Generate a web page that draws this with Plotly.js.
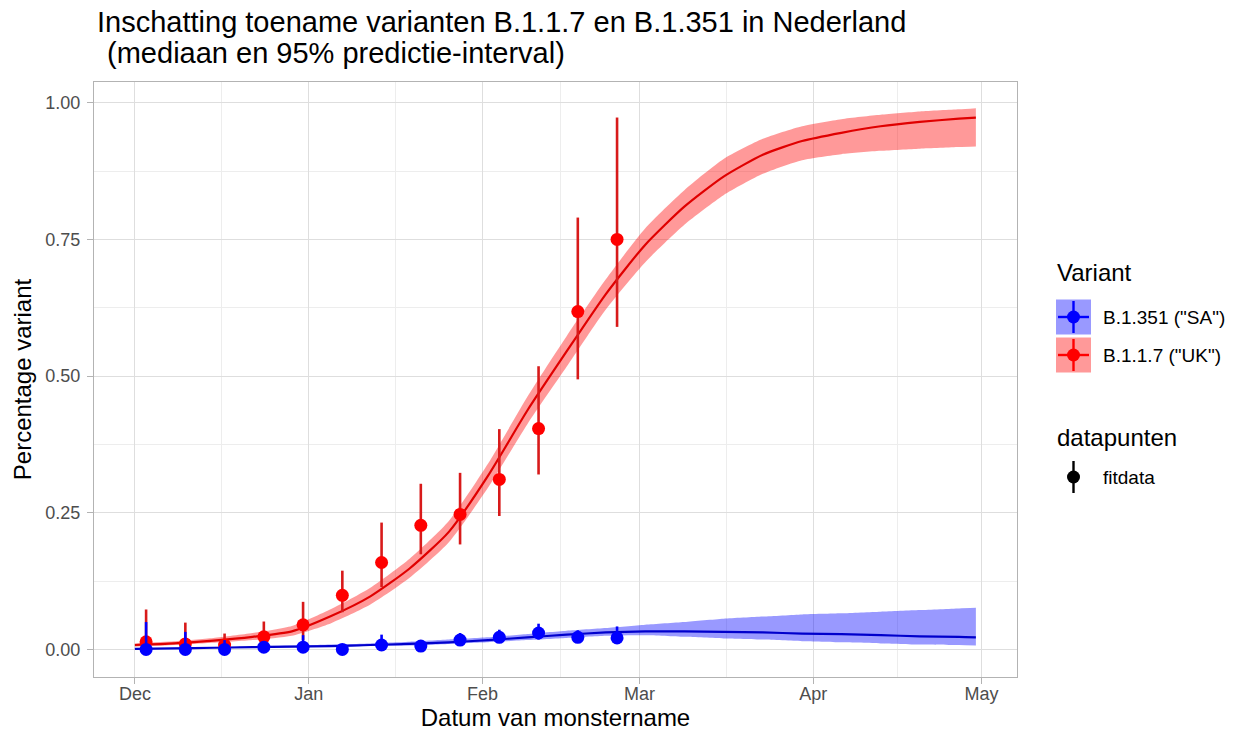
<!DOCTYPE html>
<html>
<head>
<meta charset="utf-8">
<script src="https://cdn.plot.ly/plotly-3.0.1.min.js"></script>
<style>
  html, body { margin: 0; padding: 0; background: #ffffff; }
  #chart { width: 1233px; height: 735px; }
</style>
</head>
<body>
<div id="chart"></div>
<script>
// Weekly sample dates (fitted data points)
const sampleDates = ['2020-12-03', '2020-12-10', '2020-12-17', '2020-12-24', '2020-12-31',
  '2021-01-07', '2021-01-14', '2021-01-21', '2021-01-28', '2021-02-04',
  '2021-02-11', '2021-02-18', '2021-02-25'];

// B.1.1.7 ("UK") observed share with 95% interval
const ukValue = [0.014, 0.010, 0.008, 0.023, 0.045, 0.099, 0.159, 0.227, 0.247, 0.311, 0.404, 0.618, 0.750];
const ukLower = [0.000, 0.000, 0.000, 0.008, 0.017, 0.068, 0.114, 0.174, 0.192, 0.244, 0.320, 0.494, 0.590];
const ukUpper = [0.073, 0.049, 0.029, 0.051, 0.087, 0.144, 0.232, 0.303, 0.323, 0.403, 0.518, 0.790, 0.973];

// B.1.351 ("SA") observed share with 95% interval
const saValue = [0.000, 0.000, 0.000, 0.004, 0.004, 0.000, 0.008, 0.006, 0.017, 0.022, 0.030, 0.022, 0.021];
const saLower = [0.000, 0.000, 0.000, 0.000, 0.000, 0.000, 0.002, 0.002, 0.010, 0.012, 0.018, 0.013, 0.011];
const saUpper = [0.050, 0.032, 0.017, 0.010, 0.026, 0.003, 0.027, 0.010, 0.030, 0.036, 0.047, 0.035, 0.042];

// Model prediction dates
const fitDates = ['2020-12-01', '2020-12-08', '2020-12-15', '2020-12-22', '2020-12-29',
  '2021-01-05', '2021-01-12', '2021-01-19', '2021-01-26', '2021-02-02',
  '2021-02-09', '2021-02-16', '2021-02-23', '2021-03-02', '2021-03-09',
  '2021-03-16', '2021-03-23', '2021-03-30', '2021-04-06', '2021-04-13',
  '2021-04-20', '2021-04-27', '2021-04-30'];

// B.1.1.7 prediction: median and 95% prediction interval
const ukMedian = [0.008, 0.011, 0.016, 0.023, 0.033, 0.061, 0.097, 0.148, 0.215, 0.318, 0.437, 0.545, 0.650,
  0.740, 0.810, 0.865, 0.905, 0.930, 0.945, 0.957, 0.965, 0.971, 0.973];
const ukPredLow = [0.005, 0.008, 0.012, 0.017, 0.025, 0.048, 0.082, 0.131, 0.196, 0.296, 0.412, 0.517, 0.622,
  0.708, 0.777, 0.831, 0.870, 0.895, 0.906, 0.912, 0.916, 0.919, 0.920];
const ukPredHigh = [0.011, 0.015, 0.021, 0.030, 0.043, 0.074, 0.113, 0.166, 0.235, 0.340, 0.462, 0.573, 0.677,
  0.770, 0.840, 0.897, 0.934, 0.957, 0.970, 0.978, 0.984, 0.988, 0.990];

// B.1.351 prediction: median and 95% prediction interval
const saMedian = [0.001, 0.002, 0.003, 0.004, 0.005, 0.006, 0.008, 0.010, 0.013, 0.017, 0.022, 0.027, 0.031,
  0.033, 0.033, 0.032, 0.031, 0.029, 0.028, 0.026, 0.024, 0.023, 0.022];
const saPredLow = [0.000, 0.001, 0.002, 0.003, 0.004, 0.005, 0.006, 0.007, 0.010, 0.013, 0.017, 0.021, 0.025,
  0.026, 0.023, 0.020, 0.018, 0.015, 0.013, 0.011, 0.009, 0.008, 0.007];
const saPredHigh = [0.002, 0.003, 0.004, 0.006, 0.007, 0.009, 0.011, 0.014, 0.018, 0.022, 0.028, 0.034, 0.039,
  0.045, 0.050, 0.056, 0.060, 0.064, 0.066, 0.069, 0.072, 0.075, 0.076];

// Axis ticks
const monthTicks = ['2020-12-01', '2021-01-01', '2021-02-01', '2021-03-01', '2021-04-01', '2021-05-01'];
const monthLabels = ['Dec', 'Jan', 'Feb', 'Mar', 'Apr', 'May'];
const monthMinor = ['2020-12-16 12:00', '2021-01-16 12:00', '2021-02-15', '2021-03-16 12:00', '2021-04-16'];
const yTicks = [0, 0.25, 0.5, 0.75, 1];
const yLabels = ['0.00', '0.25', '0.50', '0.75', '1.00'];
const yMinor = [0.125, 0.375, 0.625, 0.875];

const variantNames = ['B.1.351 ("SA")', 'B.1.1.7 ("UK")'];

const FONT = 'Liberation Sans, Arial, sans-serif';
const RED = '#ff0000', RED_FILL = 'rgba(255,0,0,0.4)', RED_BAR = '#d81a1a';
const BLUE = '#0000ff', BLUE_FILL = 'rgba(0,0,255,0.4)', BLUE_LINE = '#0000cc';

// A prediction band: invisible lower edge, then the upper edge filled down to it
function ribbon(x, lo, hi, fill) {
  const edge = { width: 0, shape: 'spline', smoothing: 0.6 };
  return [
    { x: x, y: lo, type: 'scatter', mode: 'lines', line: edge, hoverinfo: 'skip', showlegend: false },
    { x: x, y: hi, type: 'scatter', mode: 'lines', line: edge, fill: 'tonexty', fillcolor: fill,
      hoverinfo: 'skip', showlegend: false }
  ];
}
function medianLine(x, y, color) {
  return { x: x, y: y, type: 'scatter', mode: 'lines',
    line: { color: color, width: 2.2, shape: 'spline', smoothing: 0.6 }, showlegend: false };
}
function pointRange(x, v, lo, hi, color, barColor) {
  return {
    x: x, y: v, type: 'scatter', mode: 'markers',
    marker: { color: color, size: 13 },
    error_y: { type: 'data', symmetric: false,
      array: hi.map((h, i) => h - v[i]), arrayminus: v.map((c, i) => c - lo[i]),
      color: barColor, thickness: 2.6, width: 0 },
    showlegend: false
  };
}

const traces = [].concat(
  ribbon(fitDates, ukPredLow, ukPredHigh, RED_FILL),
  ribbon(fitDates, saPredLow, saPredHigh, BLUE_FILL),
  [
    medianLine(fitDates, ukMedian, '#e00000'),
    medianLine(fitDates, saMedian, BLUE_LINE),
    pointRange(sampleDates, ukValue, ukLower, ukUpper, RED, RED_BAR),
    pointRange(sampleDates, saValue, saLower, saUpper, BLUE, BLUE)
  ]
);

// Panel box in pixels, used to place the hand-built legend
const PL = 94, PR = 1017, PT = 82, PB = 677;
const px = v => (v - PL) / (PR - PL);
const py = v => (PB - v) / (PB - PT);

const shapes = [];
const annotations = [];

// Variant legend keys
function variantKey(cy, fill, color, name) {
  const x0 = 1056, x1 = 1091, cx = (x0 + x1) / 2;
  shapes.push({ type: 'rect', xref: 'paper', yref: 'paper', x0: px(x0), x1: px(x1),
    y0: py(cy + 17.5), y1: py(cy - 17.5), fillcolor: fill, line: { width: 0 }, layer: 'above' });
  shapes.push({ type: 'line', xref: 'paper', yref: 'paper', x0: px(x0 + 2), x1: px(x1 - 2),
    y0: py(cy), y1: py(cy), line: { color: color, width: 2.4 }, layer: 'above' });
  shapes.push({ type: 'line', xref: 'paper', yref: 'paper', x0: px(cx), x1: px(cx),
    y0: py(cy + 16), y1: py(cy - 16), line: { color: color, width: 2.4 }, layer: 'above' });
  shapes.push({ type: 'circle', xref: 'paper', yref: 'paper', x0: px(cx - 6.5), x1: px(cx + 6.5),
    y0: py(cy + 6.5), y1: py(cy - 6.5), fillcolor: color, line: { width: 0 }, layer: 'above' });
  annotations.push({ xref: 'paper', yref: 'paper', x: px(1101), y: py(cy), xanchor: 'left', yanchor: 'middle',
    text: name, showarrow: false, font: { family: FONT, size: 19, color: '#000000' } });
}

annotations.push({ xref: 'paper', yref: 'paper', x: px(1055), y: py(272), xanchor: 'left', yanchor: 'middle',
  text: 'Variant', showarrow: false, font: { family: FONT, size: 24, color: '#000000' } });
variantKey(317, BLUE_FILL, BLUE, variantNames[0]);
variantKey(355, RED_FILL, RED, variantNames[1]);

// Data-point legend
annotations.push({ xref: 'paper', yref: 'paper', x: px(1055), y: py(437), xanchor: 'left', yanchor: 'middle',
  text: 'datapunten', showarrow: false, font: { family: FONT, size: 24, color: '#000000' } });
shapes.push({ type: 'line', xref: 'paper', yref: 'paper', x0: px(1073.5), x1: px(1073.5),
  y0: py(493), y1: py(461), line: { color: '#000000', width: 2.4 } });
shapes.push({ type: 'circle', xref: 'paper', yref: 'paper', x0: px(1067), x1: px(1080),
  y0: py(483.5), y1: py(470.5), fillcolor: '#000000', line: { width: 0 } });
annotations.push({ xref: 'paper', yref: 'paper', x: px(1101), y: py(477), xanchor: 'left', yanchor: 'middle',
  text: 'fitdata', showarrow: false, font: { family: FONT, size: 19, color: '#000000' } });

// Second line of the title
annotations.push({ xref: 'paper', yref: 'paper', x: px(97), y: py(53), xanchor: 'left', yanchor: 'middle',
  text: ' (mediaan en 95% predictie-interval)', showarrow: false,
  font: { family: FONT, size: 29, color: '#000000' } });

const layout = {
  width: 1233, height: 735,
  margin: { l: PL, r: 1233 - PR, t: PT, b: 735 - PB, pad: 0 },
  paper_bgcolor: '#ffffff', plot_bgcolor: '#ffffff',
  font: { family: FONT, color: '#000000' },
  showlegend: false,
  title: { text: 'Inschatting toename varianten B.1.1.7 en B.1.351 in Nederland',
    x: 97 / 1233, xref: 'container', xanchor: 'left',
    y: 1 - 22 / 735, yref: 'container', yanchor: 'middle',
    font: { family: FONT, size: 29, color: '#000000' } },
  xaxis: {
    type: 'date', range: ['2020-11-23 17:00', '2021-05-07 08:00'],
    tickmode: 'array', tickvals: monthTicks, ticktext: monthLabels,
    ticks: 'outside', ticklen: 6, tickcolor: '#b3b3b3', tickwidth: 1,
    ticklabelstandoff: -6,
    tickfont: { family: FONT, size: 18, color: '#4d4d4d' },
    showgrid: true, gridcolor: '#dedede', gridwidth: 1,
    minor: { tickmode: 'array', tickvals: monthMinor, showgrid: true, gridcolor: '#ededed', gridwidth: 1, ticks: '' },
    showline: true, mirror: true, linecolor: '#b3b3b3', linewidth: 1, zeroline: false,
    title: { text: 'Datum van monstername', standoff: 6, font: { family: FONT, size: 24, color: '#000000' } }
  },
  yaxis: {
    range: [-0.0505, 1.038],
    tickmode: 'array', tickvals: yTicks, ticktext: yLabels,
    ticks: 'outside', ticklen: 6, tickcolor: '#b3b3b3', tickwidth: 1,
    ticklabelstandoff: 3,
    tickfont: { family: FONT, size: 18, color: '#4d4d4d' },
    showgrid: true, gridcolor: '#dedede', gridwidth: 1,
    minor: { tickmode: 'array', tickvals: yMinor, showgrid: true, gridcolor: '#ededed', gridwidth: 1, ticks: '' },
    showline: true, mirror: true, linecolor: '#b3b3b3', linewidth: 1, zeroline: false,
    title: { text: 'Percentage variant', standoff: 6, font: { family: FONT, size: 24, color: '#000000' } }
  },
  shapes: shapes,
  annotations: annotations
};

Plotly.newPlot('chart', traces, layout, { staticPlot: true, displayModeBar: false });
</script>
</body>
</html>
